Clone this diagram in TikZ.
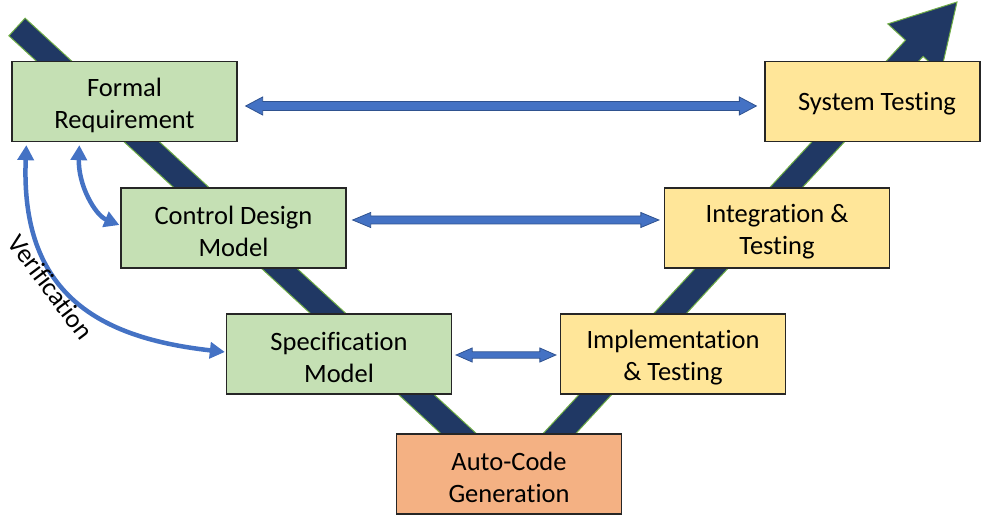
\documentclass[tikz,border=0pt]{standalone}
\usepackage{fontspec}
\setmainfont{Carlito}[Ligatures=NoCommon]
\usetikzlibrary{calc,arrows.meta}

\definecolor{vnavy}{HTML}{203864}
\definecolor{vgreen}{HTML}{70AD47}
\definecolor{reqgreen}{HTML}{C5E0B4}
\definecolor{testyellow}{HTML}{FFE699}
\definecolor{codeorange}{HTML}{F4B183}
\definecolor{boxline}{HTML}{262626}
\definecolor{arrblue}{HTML}{4472C4}
\definecolor{arrblueline}{HTML}{2F528F}

% double-headed block arrow: from, to, shaft half width, head half width, head length
\newcommand\bidiarrow[5]{%
  \filldraw[blockarr] (#1) -- ($(#1)+(#5,#4)$) -- ($(#1)+(#5,#3)$)
    -- ($(#2)+(-#5,#3)$) -- ($(#2)+(-#5,#4)$) -- (#2)
    -- ($(#2)+(-#5,-#4)$) -- ($(#2)+(-#5,-#3)$)
    -- ($(#1)+(#5,-#3)$) -- ($(#1)+(#5,-#4)$) -- cycle;}

\begin{document}
\begin{tikzpicture}[x=1pt,y=-1pt,
  box/.style={draw=boxline,line width=1.3pt,minimum width=225pt,minimum height=80pt,
    inner sep=0pt},
  boxtext/.style={inner sep=0pt,align=center,font=\fontsize{26.5}{32}\selectfont},
  reqbox/.style={box,fill=reqgreen},
  testbox/.style={box,fill=testyellow},
  codebox/.style={box,fill=codeorange},
  vshape/.style={fill=vnavy,draw=vgreen,line width=1pt,line join=miter},
  blockarr/.style={fill=arrblue,draw=arrblueline,line width=0.8pt,line join=miter},
  curvearr/.style={draw=arrblue,line width=4.5pt,
    {Triangle[length=15pt,width=16pt]}-{Triangle[length=15pt,width=16pt]}}
]
\useasboundingbox (0,0) rectangle (981,518);

% the V: development down the left arm, testing up the right arm
\filldraw[vshape] (25.1,18.2) -- (512.5,466.8) -- (905.5,40.2) -- (887.8,23.9)
  -- (957,2) -- (940.8,72.7) -- (923.1,56.4) -- (513.9,500.8) -- (8.9,35.8) -- cycle;

% stages
\node[reqbox] (fr) at (124.5,101.5) {};
\node[reqbox] (cd) at (233.5,228) {};
\node[reqbox] (sp) at (339,354) {};
\node[codebox] (ac) at (509,474) {};
\node[testbox] (im) at (673,354) {};
\node[testbox] (it) at (777,228) {};
\node[testbox,minimum width=215pt] (st) at (872.5,101.5) {};

% stage labels, set slightly below each box centre
\node[boxtext] (fr-t) at ([yshift=-3.5pt]fr.center) {Formal\\Requirement};
\node[boxtext] (cd-t) at ([yshift=-3.5pt]cd.center) {Control Design\\Model};
\node[boxtext] (sp-t) at ([yshift=-3.5pt]sp.center) {Specification\\Model};
\node[boxtext] (ac-t) at ([yshift=-3.5pt]ac.center) {Auto-Code\\Generation};
\node[boxtext] (im-t) at ([yshift=-3.5pt]im.center) {Implementation\\\&\ Testing};
\node[boxtext] (it-t) at ([yshift=-3.5pt]it.center) {Integration \&\\Testing};
\node[boxtext] (st-t) at ([xshift=4.5pt,yshift=-2.5pt]st.center) {System Testing};

% links between matching levels
\coordinate (a1) at ($(fr.east)+(8,4.5)$);
\coordinate (a2) at ($(st.west)+(-8,4.5)$);
\coordinate (b1) at ($(cd.east)+(6,-8)$);
\coordinate (b2) at ($(it.west)+(-5,-8)$);
\coordinate (c1) at ($(sp.east)+(4,1)$);
\coordinate (c2) at ($(im.west)+(-4,1)$);
\bidiarrow{a1}{a2}{4.5}{9}{17}
\bidiarrow{b1}{b2}{4}{7.5}{18}
\bidiarrow{c1}{c2}{3.2}{7}{16}

% verification loops
\coordinate (v1) at ($(fr.south west)+(15,3)$);
\coordinate (v2) at ($(sp.west)+(-1,-2)$);
\coordinate (w1) at ($(fr.south west)+(68,3)$);
\coordinate (w2) at ($(cd.west)+(-1,-3)$);
\draw[curvearr] (v1) .. controls (20,295) and (100,338) .. (v2);
\draw[curvearr] (w1) .. controls (78,185) and (95,215) .. (w2);

\node[rotate=-53,font=\fontsize{26.5}{32}\selectfont] (ver) at (51,287) {Verification};
\end{tikzpicture}
\end{document}
